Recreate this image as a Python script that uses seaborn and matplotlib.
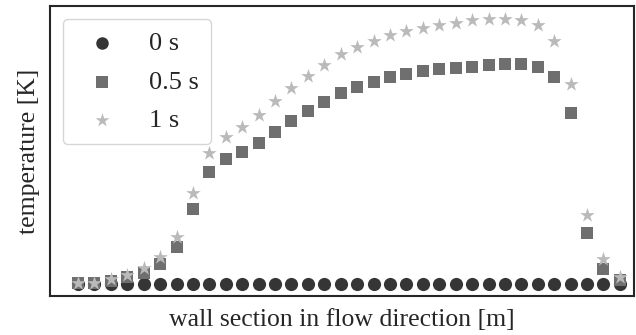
import numpy as np
import pandas as pd
import matplotlib
matplotlib.use("Agg")
import matplotlib.pyplot as plt
import seaborn as sns

# Wall position of each node [m]
position = np.arange(34) * 0.1

# Wall temperature per node [K]
temp_0s = [300.0] * 34
temp_05s = [300.5, 300.5, 306, 315.5, 327, 349, 390.5, 487, 579.5, 610.5,
            628, 652, 678, 707, 731, 754.5, 776, 792, 803, 815.5,
            824.5, 831, 836, 839.5, 842.5, 845.5, 849, 849, 842, 815.5,
            727.5, 425.5, 335.5, 309]
temp_1s = [302.5, 302, 310.5, 321, 338, 367, 417, 527, 625.5, 667,
           692, 721, 756, 788, 818.5, 846, 873, 892, 906, 921,
           931, 939.5, 946, 952, 958, 961, 961, 959.5, 946, 906,
           798, 471, 360.5, 317]

times = ["0 s", "0.5 s", "1 s"]
colors = ["#353535", "#6f6f6f", "#bababa"]
markers = ["o", "s", "*"]
sizes = [90, 78, 120]

sns.set_theme(style="white")
plt.rcParams["font.family"] = ["Liberation Serif", "DejaVu Serif"]

fig = plt.figure(figsize=(6.36, 3.35), dpi=100)
ax = fig.add_axes([50 / 636, 39 / 335, 584 / 636, 290 / 335])

for label, temps, color, marker, size in zip(times, [temp_0s, temp_05s, temp_1s],
                                             colors, markers, sizes):
    df = pd.DataFrame({"x": position, "T": temps})
    sns.scatterplot(data=df, x="x", y="T", ax=ax, color=color, marker=marker,
                    s=size, linewidth=0, label=label)

ax.set_xlim(-0.1705, 3.386)
ax.set_ylim(268.75, 993.75)
ax.set_xticks([])
ax.set_yticks([])
ax.set_xlabel("wall section in flow direction [m]", fontsize=18.5, labelpad=9)
ax.set_ylabel("temperature [K]", fontsize=18.5, labelpad=7)

for sp in ax.spines.values():
    sp.set_color("#262626")
    sp.set_linewidth(1.5)

leg = ax.legend(loc="upper left", fontsize=19, frameon=True, fancybox=True,
                borderaxespad=0.5, borderpad=0.46, labelspacing=0.58,
                handletextpad=0.8, markerscale=0.95)
leg.get_frame().set_edgecolor("#cccccc")
leg.get_frame().set_linewidth(1.0)

fig.savefig("out.png", dpi=100)
